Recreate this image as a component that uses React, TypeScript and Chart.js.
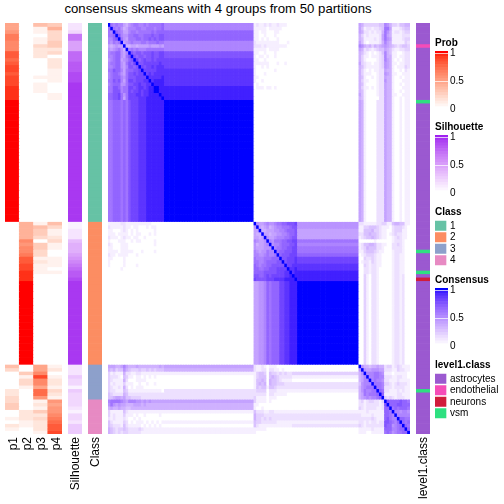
import React, { useEffect, useRef } from "react";
import { Chart, registerables } from "chart.js";

Chart.register(...registerables);

const FONT = '"Liberation Sans", Arial, Helvetica, sans-serif';

/* ---------- data: hex levels (0..f = 0..1), "x(n)" means x repeated n times ---------- */
const titleText = "consensus skmeans with 4 groups from 50 partitions";
const probLabels = ["p1", "p2", "p3", "p4"];

const p1Levels = "778aa 999cc bcddc ddd eeee f(35) 0(41) 53000 00223 34400 10210";
const p2Levels = "0(57) 66666 98 99 a cc dd eee f(24) 00413 31000 00022 21100";
const p3Levels = "51101 13222 00000 10111 00 0(35) 15443 04433 12111 00 0(24) 779d9 97bb8 12142 32221";
const p4Levels = "46333 44230 22211 11000 11 0(35) 53112 31100 11101 00 0(24) 12012 21321 87889 abccd";
const silhouetteLevels = "223aa 777bb bcccd ddeee ee e(35) 11222 56667 89abc cd e(24) 22243 31433 33213 32444";
const classKeys = "1(57) 2(41) 3(10) 4(10)";
const level1Keys = "a(6) e a(15) v a(42) v a(5) v a n a(31) v a(12)";

const classNames = ["1", "2", "3", "4"];
const classColors = ["#66C2A5", "#FC8D62", "#8DA0CB", "#E78AC3"];
const level1Names = ["astrocytes", "endothelial", "neurons", "vsm"];
const level1Colors = ["#9B59D0", "#F54CB8", "#D01C3C", "#2EE080"];
const rampStops = [0, 0.05, 0.1, 0.15, 0.2, 0.25, 0.3, 0.35, 0.4, 0.45, 0.5, 0.55, 0.6, 0.65, 0.7, 0.75, 0.8, 0.85, 0.9, 0.95, 1];
const rampTicks = [0, 0.5, 1];

const class1Upper = [
  "f9898 86578 99889 89999 9a 8(35)",
  "9f989 75688 89988 99989 9a 8(35)",
  "98fa9 86689 98999 99a9a aa a(35)",
  "99afb 87799 aa99a aabaa bb a(35)",
  "88abf 97699 9aa9a ababa bb a(35)",
  "87989 f6789 88899 8999a 99 8(35)",
  "65676 6f556 65666 67666 76 8(35)",
  "76789 75f89 89888 99999 99 8(35)",
  "899aa 768fb abbab bbcbb cc b(35)",
  "889aa 769bf babba bbcbb cc b(35)",
  "789aa 678ab fcabc bbcbc cc c(35)",
  "899aa 769ba cfbbc ccccc dc c(35)",
  "889aa 768bb abfcb ccdcd dd c(35)",
  "99baa 869aa bbcfc ccccd dd d(35)",
  "89aa9 769bb cbccf cdcdd dd d(35)",
  "89aaa 879bb bcccc fdddd de d(35)",
  "99bab 869cc bcccd dfdee ee d(35)",
  "89aaa 779bb ccdcc ddfee ee d(35)",
  "99bba 899cc bcddc deeff ee e(35)",
  "99bbb 899cb ccdcd deeff ee e(35)",
  "aabbc 979cc cddcd deeee fe e(35)",
  "aabbc 969cc ccddd eeeee ef e(35)",
];
const class1Core = "99aaa 9a9bc ccddd eeeee ee f(35)";

const class1vs2Upper = [
  "1211 2121 1211 1000 0(25)",
  "1111 1011 1110 0000 0(25)",
  "1101 1000 1100 0000 0(25)",
  "1100 1000 1000 0000 0(25)",
  "1101 0100 0100 0000 0(25)",
  "2111 1111 1100 0100 0(25)",
  "2221 2111 1111 1000 0(25)",
  "1111 1011 1100 0000 0(25)",
  "1100 1000 1000 0000 0(25)",
  "1011 0100 1000 0000 0(25)",
  "1100 1000 0000 0000 0(25)",
  "1111 1100 0100 1000 0(25)",
  "1001 0100 0000 0000 0(25)",
  "1000 0000 1000 0000 0(25)",
  "1000 1000 0000 0000 0(25)",
  "1100 0000 0000 0000 0(25)",
  "1001 0000 0000 0000 0(25)",
  "0100 0000 0000 0000 0(25)",
  "0111 0110 1000 0000 0(25)",
  "0(41)",
  "0(41)",
  "0(41)",
];
const class1vs2Core = "0(41)";

const class1vs34Upper = [
  "65333 33344 87533 24455",
  "64122 12234 99611 12344",
  "65221 21225 97512 21233",
  "53121 11126 96511 11222",
  "54111 12126 97611 11233",
  "64101 11125 86511 11132",
  "87545 35456 76543 23443",
  "65232 12344 65421 12233",
  "54210 10124 85411 00122",
  "53110 11123 85511 01122",
  "53100 00123 86510 10122",
  "63211 01123 76511 01122",
  "54211 11123 76510 11132",
  "53101 01122 65510 01021",
  "53111 00122 76511 00111",
  "54100 10122 65510 01011",
  "53110 00122 75510 00111",
  "54100 00122 65510 01011",
  "53110 10122 65510 00111",
  "54100 00122 65510 01011",
  "64100 00122 65511 00111",
  "54100 00022 65510 01011",
];
const class1vs34Core = "65100 00222 65510 01011";

const class2Upper = [
  "f7667 87789 9aabb bc 7(24)",
  "7f656 75678 8999a bb 7(24)",
  "66f55 66677 889aa ab 6(24)",
  "655f6 65667 7889a ab 6(24)",
  "6656f 76678 8899a bb 6(24)",
  "87667 f8799 9aabb cc 9(24)",
  "75667 8f788 9aaab bc 8(24)",
  "76667 77f89 9aabb cc 9(24)",
  "87677 988f9 aabbb cc 9(24)",
  "88778 9889f abbbc cc a(24)",
  "98889 99aaa fbbcc cd c(24)",
  "99889 aaaab bfbcc cd c(24)",
  "a9899 aabbb bbfcc dd d(24)",
  "aa99a abbbc cccfd de d(24)",
  "aaaab bbbbc ccddf de e(24)",
  "bbaab cbccc ccdde fe e(24)",
  "cbbbb cccdd ddeee ef e(24)",
];
const class2Core = "66778 a9aaa ccdde ee f(24)";

const class2vs34Upper = [
  "22111 11223 31145 54411",
  "11334 44321 11023 33210",
  "11444 53321 10023 33110",
  "22445 44321 10123 22110",
  "12344 54321 10012 32110",
  "00000 01000 00012 22100",
  "12445 54221 10022 32100",
  "12354 44221 00022 22100",
  "11344 43211 00012 22100",
  "01233 32110 00012 21100",
  "00322 32110 00012 21100",
  "01221 32110 00012 21100",
  "00321 22110 00012 21100",
  "00221 22100 00012 21100",
  "00221 22100 00012 21100",
  "00310 22100 00012 21200",
  "00310 22100 00012 21200",
];
const class2vs34Core = "00310 22100 00012 21200";

const class34Block = [
  "f7554 55655 23312 32111",
  "7f766 77766 22211 32211",
  "57f88 89987 11101 11110",
  "568f8 89988 22211 22110",
  "5688f 89887 22111 21111",
  "47888 f9998 33212 32221",
  "57899 9f998 22212 22211",
  "57988 99fa9 22111 21211",
  "56989 99afa 11111 22111",
  "56787 889af 32321 22211",
  "23123 32213 fbaaa abaa9",
  "22122 22212 bfaaa bbaaa",
  "32122 22112 aaf9a 9aaa9",
  "11121 11111 aa9f8 87887",
  "21111 21111 aa98f 88888",
  "22222 32111 ab988 faa99",
  "22121 22122 bba98 afa9a",
  "32122 22222 baa78 9afa9",
  "11111 21111 aaa88 9aafa",
  "11100 11111 9a978 99aaf",
];

/* ---------- helpers ---------- */
const expand = (s: string) =>
  s.replace(/\s/g, "").replace(/(.)\((\d+)\)/g, (_m, c, n) => c.repeat(+n));
const level = (c: string) => parseInt(c, 16) / 15;
const repeat = (s: string, n: number) => Array.from({ length: n }, () => s);

const c11 = [...class1Upper, ...repeat(class1Core, 35)].map(expand);
const c12 = [...class1vs2Upper, ...repeat(class1vs2Core, 35)].map(expand);
const c134 = [...class1vs34Upper, ...repeat(class1vs34Core, 35)].map(expand);
const c22 = [...class2Upper, ...repeat(class2Core, 24)].map(expand);
const c234 = [...class2vs34Upper, ...repeat(class2vs34Core, 24)].map(expand);
const c3434 = class34Block.map(expand);
const columnOf = (rows: string[], j: number) => rows.map((r) => r[j]).join("");
const consensusRows = [
  ...c11.map((r, i) => r + c12[i] + c134[i]),
  ...c22.map((r, j) => columnOf(c12, j) + r + c234[j]),
  ...c3434.map((r, k) => columnOf(c134, k) + columnOf(c234, k) + r),
];

const toLab = (hex: string) => {
  const v = [1, 3, 5].map((i) => parseInt(hex.slice(i, i + 2), 16) / 255)
    .map((c) => (c <= 0.04045 ? c / 12.92 : ((c + 0.055) / 1.055) ** 2.4));
  const f = (t: number) => (t > 0.008856 ? Math.cbrt(t) : 7.787 * t + 16 / 116);
  const x = f((0.4124 * v[0] + 0.3576 * v[1] + 0.1805 * v[2]) / 0.95047);
  const y = f(0.2126 * v[0] + 0.7152 * v[1] + 0.0722 * v[2]);
  const z = f((0.0193 * v[0] + 0.1192 * v[1] + 0.9505 * v[2]) / 1.08883);
  return [116 * y - 16, 500 * (x - y), 200 * (y - z)];
};
const fromLab = ([L, a, b]: number[]) => {
  const fy = (L + 16) / 116;
  const g = (t: number) => (t ** 3 > 0.008856 ? t ** 3 : (t - 16 / 116) / 7.787);
  const X = 0.95047 * g(fy + a / 500);
  const Y = g(fy);
  const Z = 1.08883 * g(fy - b / 200);
  const lin = [
    3.2406 * X - 1.5372 * Y - 0.4986 * Z,
    -0.9689 * X + 1.8758 * Y + 0.0415 * Z,
    0.0557 * X - 0.204 * Y + 1.057 * Z,
  ];
  const c = lin.map((u) => {
    const w = Math.max(0, Math.min(1, u));
    return Math.round(255 * (w <= 0.0031308 ? 12.92 * w : 1.055 * w ** (1 / 2.4) - 0.055));
  });
  return `rgb(${c[0]},${c[1]},${c[2]})`;
};
const ramp = (top: string) => {
  const a = toLab("#ffffff");
  const b = toLab(top);
  return (t: number) => fromLab(a.map((u, i) => u + (b[i] - u) * t));
};
const RED = ramp("#ff0000");
const PURPLE = ramp("#a020f0");
const BLUE = ramp("#0000ff");

const baseOptions = {
  responsive: false,
  animation: false as const,
  events: [] as string[],
  font: { family: FONT },
};
const noPlugins = { legend: { display: false }, tooltip: { enabled: false } };

/* a heat panel: one stacked dataset per row, one category per column */
const heatConfig = (columns: string[], rowColors: string[][], labelled: boolean, labelOffset = 1) => ({
  type: "bar" as const,
  data: {
    labels: columns,
    datasets: rowColors.map((row) => ({
      data: columns.map(() => 1),
      backgroundColor: row,
      borderWidth: 0,
      barPercentage: 1,
      categoryPercentage: 1,
    })),
  },
  options: {
    ...baseOptions,
    plugins: noPlugins,
    layout: { padding: 0 },
    scales: {
      x: {
        stacked: true,
        display: labelled,
        grid: { display: false, drawTicks: false },
        border: { display: false },
        ticks: {
          autoSkip: false,
          minRotation: 90,
          maxRotation: 90,
          padding: 3,
          labelOffset,
          color: "#000",
          font: { family: FONT, size: 12 },
        },
        afterFit: (s: any) => {
          s.height = labelled ? 70 : 0;
          s.paddingLeft = 0;
          s.paddingRight = 0;
        },
      },
      y: { stacked: true, display: false, reverse: true, min: 0, max: rowColors.length },
    },
  },
});

const rampConfig = (title: string, color: (t: number) => string) => ({
  type: "bar" as const,
  data: {
    labels: [title],
    datasets: rampStops.map((s) => ({
      data: [[s, s + 0.05]] as any,
      backgroundColor: color(s),
      borderWidth: 0,
      grouped: false,
      barPercentage: 1,
      categoryPercentage: 1,
    })),
  },
  options: {
    ...baseOptions,
    layout: { padding: { bottom: 7 } },
    plugins: {
      ...noPlugins,
      title: {
        display: true,
        text: title,
        align: "start" as const,
        color: "#000",
        font: { family: FONT, size: 10, weight: "bold" as const },
        padding: { top: 0, bottom: 2 },
      },
    },
    scales: {
      x: { display: false },
      y: {
        position: "right" as const,
        min: -0.01,
        max: 1.04,
        border: { display: false },
        grid: {
          z: 1,
          drawTicks: false,
          color: "rgba(255,255,255,0.7)",
          lineWidth: 1,
          borderDash: [4, 5, 4],
        },
        ticks: {
          padding: 2,
          color: "#000",
          font: { family: FONT, size: 10 },
          callback: (v: any) => String(v),
        },
        afterBuildTicks: (s: any) => {
          s.ticks = rampTicks.map((value) => ({ value }));
        },
        afterFit: (s: any) => {
          s.width = 47;
          s.paddingTop = 0;
          s.paddingBottom = 0;
        },
      },
    },
  },
});

const swatchConfig = (title: string, names: string[], colors: string[]) => ({
  type: "bar" as const,
  data: {
    labels: names,
    datasets: [
      {
        data: names.map(() => 1),
        backgroundColor: colors,
        borderColor: "rgba(255,255,255,0.55)",
        borderWidth: 1,
        barPercentage: 1,
        categoryPercentage: 1,
      },
    ],
  },
  options: {
    ...baseOptions,
    indexAxis: "y" as const,
    layout: { padding: 0 },
    plugins: {
      ...noPlugins,
      title: {
        display: true,
        text: title,
        align: "start" as const,
        color: "#000",
        font: { family: FONT, size: 10, weight: "bold" as const },
        padding: { top: 0, bottom: 2 },
      },
    },
    scales: {
      x: { display: false, min: 0, max: 1 },
      y: {
        position: "right" as const,
        border: { display: false },
        grid: { display: false, drawTicks: false },
        ticks: { padding: 3, color: "#000", font: { family: FONT, size: 10 }, autoSkip: false },
        afterFit: (s: any) => {
          s.width = 57;
          s.paddingTop = 0;
          s.paddingBottom = 0;
        },
      },
    },
  },
});

/* ---------- panels ---------- */
const probExpanded = [p1Levels, p2Levels, p3Levels, p4Levels].map(expand);
const rowCount = consensusRows.length;
const rowIdx = Array.from({ length: rowCount }, (_, i) => i);

const probRows = rowIdx.map((i) => probExpanded.map((col) => RED(level(col[i]))));
const silRows = expand(silhouetteLevels).split("").map((c) => [PURPLE(level(c))]);
const classRows = expand(classKeys).split("").map((c) => [classColors[+c - 1]]);
const level1Index: Record<string, number> = { a: 0, e: 1, n: 2, v: 3 };
const level1Rows = expand(level1Keys).split("").map((c) => [level1Colors[level1Index[c]]]);
const levelCache: Record<string, string> = {};
const blueOf = (c: string) => (levelCache[c] ??= BLUE(level(c)));
const matrixRows = consensusRows.map((r) => r.split("").map(blueOf));
const matrixColumns = rowIdx.map(String);

function Panel({ left, top, width, height, config }: any) {
  const ref = useRef<HTMLCanvasElement>(null);
  useEffect(() => {
    const chart = new Chart(ref.current as HTMLCanvasElement, config());
    return () => chart.destroy();
  }, []);
  return (
    <canvas
      ref={ref}
      width={width}
      height={height}
      style={{ position: "absolute", left, top, width, height, display: "block" }}
    />
  );
}

export default function App() {
  return (
    <div style={{ position: "absolute", left: 0, top: 0, width: 504, height: 504, background: "#fff", overflow: "hidden" }}>
      <div
        style={{
          position: "absolute",
          left: 0,
          top: 1,
          width: 436,
          textAlign: "center",
          font: `13.2px ${FONT}`,
          lineHeight: "16px",
          color: "#000",
          whiteSpace: "nowrap",
        }}
      >
        {titleText}
      </div>
      <Panel left={5} top={23} width={57} height={481} config={() => heatConfig(probLabels, probRows, true, 1.5)} />
      <Panel left={68} top={23} width={14} height={481} config={() => heatConfig(["Silhouette"], silRows, true)} />
      <Panel left={88} top={23} width={14} height={481} config={() => heatConfig(["Class"], classRows, true)} />
      <Panel left={108} top={23} width={302} height={411} config={() => heatConfig(matrixColumns, matrixRows, false)} />
      <Panel left={416} top={23} width={14} height={481} config={() => heatConfig(["level1.class"], level1Rows, true)} />
      <Panel left={435} top={37} width={60} height={80} config={() => rampConfig("Prob", RED)} />
      <Panel left={435} top={121} width={60} height={80} config={() => rampConfig("Silhouette", PURPLE)} />
      <Panel left={435} top={206} width={69} height={60} config={() => swatchConfig("Class", classNames, classColors)} />
      <Panel left={435} top={274} width={60} height={80} config={() => rampConfig("Consensus", BLUE)} />
      <Panel left={435} top={359} width={69} height={60} config={() => swatchConfig("level1.class", level1Names, level1Colors)} />
    </div>
  );
}
